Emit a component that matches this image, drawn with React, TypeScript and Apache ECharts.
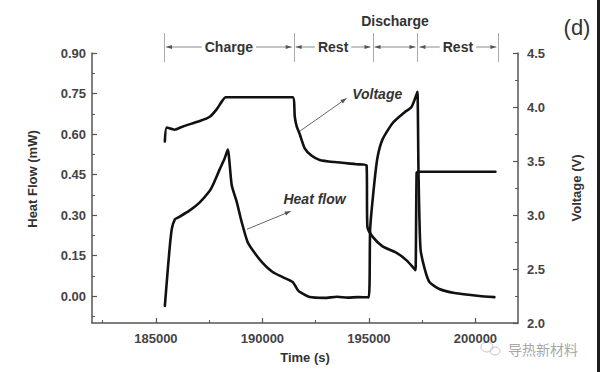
import React, { useEffect, useRef } from 'react';
import * as echarts from 'echarts';

// Voltage trace (right axis, V) vs time (s)
const voltageTime = [185420, 185510, 185880, 186270, 187060, 187530, 187860, 188090, 188280, 191420, 191520, 191610, 191750, 191980, 192300, 192690, 193390, 194400, 194890, 194930, 195170, 195640, 196300, 196770, 197140, 197190, 197240, 197300, 200940];
const voltageValue = [3.68, 3.81, 3.79, 3.82, 3.87, 3.91, 3.98, 4.05, 4.09, 4.09, 3.91, 3.82, 3.75, 3.62, 3.55, 3.51, 3.49, 3.47, 3.46, 2.89, 2.80, 2.71, 2.65, 2.58, 2.50, 2.49, 3.39, 3.40, 3.40];

// Heat flow trace (left axis, mW) vs time (s)
const heatTime = [185420, 185560, 185660, 185750, 185890, 186030, 186590, 187060, 187530, 187670, 188000, 188230, 188375, 188560, 188800, 189030, 189310, 189640, 190020, 190480, 190950, 191420, 191660, 191750, 192220, 192920, 193500, 194000, 194500, 194990, 195060, 195270, 195410, 195640, 196110, 196670, 197000, 197230, 197280, 197330, 197420, 197610, 197840, 198310, 199020, 200190, 200890];
const heatValue = [-0.037, 0.10, 0.19, 0.25, 0.284, 0.29, 0.317, 0.347, 0.39, 0.41, 0.47, 0.51, 0.542, 0.41, 0.347, 0.273, 0.199, 0.159, 0.122, 0.089, 0.070, 0.052, 0.022, 0.015, -0.004, -0.007, -0.003, -0.006, -0.004, -0.005, 0.25, 0.43, 0.516, 0.58, 0.64, 0.68, 0.70, 0.745, 0.756, 0.45, 0.177, 0.103, 0.052, 0.026, 0.011, 0.0, -0.004];

// Axis ticks
const xMajorTicks = [185000, 190000, 195000, 200000];
const xMinorTicks = [182500, 187500, 192500, 197500];
const heatMajorTicks = [0, 0.15, 0.3, 0.45, 0.6, 0.75, 0.9];
const heatMinorTicks = [-0.075, 0.075, 0.225, 0.375, 0.525, 0.675, 0.825];
const voltMajorTicks = [2, 2.5, 3, 3.5, 4, 4.5];
const voltMinorTicks = [2.25, 2.75, 3.25, 3.75, 4.25];

// Phase annotation (time boundaries) and labels
const phaseBoundaries = [185380, 191470, 195170, 197280, 201080];
const phaseLabels = ['Charge', 'Rest', '', 'Rest'];

// Curve annotation anchors in data units: [arrowStartT, arrowStartY, arrowEndT, arrowEndY, labelT, labelY]
const voltageNote = [191750, 3.775, 193950, 4.08, 195390, 4.12];
const heatNote = [189270, 0.247, 191330, 0.314, 192450, 0.358];

const FONT = '"Liberation Sans", Arial, sans-serif';
const AXIS_COLOR = '#555';
const LABEL_COLOR = '#444';

export default function App() {
  const ref = useRef<HTMLDivElement>(null);

  useEffect(() => {
    if (!ref.current) return;
    const chart = echarts.init(ref.current, null, { renderer: 'svg' });

    const labelStyle = { color: LABEL_COLOR, fontWeight: 'bold' as const, fontSize: 13, fontFamily: FONT };
    const nameStyle = { color: '#333', fontWeight: 'bold' as const, fontSize: 13, fontFamily: FONT };

    const option: any = {
      animation: false,
      backgroundColor: '#fff',
      grid: { left: 92, right: 82, top: 53, bottom: 49, containLabel: false },
      xAxis: [
        {
          type: 'value', min: 182000, max: 202000, position: 'bottom',
          axisLine: { show: true, onZero: false, lineStyle: { color: AXIS_COLOR, width: 1.5 } },
          axisTick: { show: true, inside: true, length: 5, customValues: xMajorTicks, lineStyle: { color: AXIS_COLOR, width: 1.2 } },
          axisLabel: { ...labelStyle, margin: 9, customValues: xMajorTicks, formatter: (v: number) => String(v) },
          splitLine: { show: false },
          name: 'Time (s)', nameLocation: 'middle', nameGap: 28, nameTextStyle: nameStyle,
        },
        {
          type: 'value', min: 182000, max: 202000, position: 'bottom',
          axisLine: { show: false, onZero: false },
          axisTick: { show: true, inside: true, length: 3, customValues: xMinorTicks, lineStyle: { color: AXIS_COLOR, width: 1 } },
          axisLabel: { show: false },
          splitLine: { show: false },
        },
      ],
      yAxis: [
        {
          type: 'value', min: -0.1, max: 0.9, position: 'left',
          axisLine: { show: true, onZero: false, lineStyle: { color: AXIS_COLOR, width: 1.5 } },
          axisTick: { show: true, inside: true, length: 5, customValues: heatMajorTicks, lineStyle: { color: AXIS_COLOR, width: 1.2 } },
          axisLabel: { ...labelStyle, margin: 6, customValues: heatMajorTicks, formatter: (v: number) => v.toFixed(2) },
          splitLine: { show: false },
          name: 'Heat Flow (mW)', nameLocation: 'middle', nameGap: 53, nameRotate: 90,
          nameTextStyle: { ...nameStyle, padding: [0, 0, 0, 18] },
        },
        {
          type: 'value', min: -0.1, max: 0.9, position: 'left',
          axisLine: { show: false, onZero: false },
          axisTick: { show: true, inside: true, length: 3, customValues: heatMinorTicks, lineStyle: { color: AXIS_COLOR, width: 1 } },
          axisLabel: { show: false },
          splitLine: { show: false },
        },
        {
          type: 'value', min: 2, max: 4.5, position: 'right',
          axisLine: { show: true, onZero: false, lineStyle: { color: AXIS_COLOR, width: 1.5 } },
          axisTick: { show: true, inside: true, length: 5, customValues: voltMajorTicks, lineStyle: { color: AXIS_COLOR, width: 1.2 } },
          axisLabel: { ...labelStyle, margin: 9, customValues: voltMajorTicks, formatter: (v: number) => v.toFixed(1) },
          splitLine: { show: false },
          name: 'Voltage (V)', nameLocation: 'middle', nameGap: 52, nameRotate: 90,
          nameTextStyle: nameStyle,
        },
        {
          type: 'value', min: 2, max: 4.5, position: 'right',
          axisLine: { show: false, onZero: false },
          axisTick: { show: true, inside: true, length: 3, customValues: voltMinorTicks, lineStyle: { color: AXIS_COLOR, width: 1 } },
          axisLabel: { show: false },
          splitLine: { show: false },
        },
      ],
      series: [
        {
          name: 'Heat flow', type: 'line', xAxisIndex: 0, yAxisIndex: 0,
          data: heatTime.map((t, i) => [t, heatValue[i]]),
          showSymbol: false, smooth: 0.2,
          lineStyle: { color: '#111', width: 2.6, join: 'round', cap: 'round' },
        },
        {
          name: 'Voltage', type: 'line', xAxisIndex: 0, yAxisIndex: 2,
          data: voltageTime.map((t, i) => [t, voltageValue[i]]),
          showSymbol: false, smooth: 0.2,
          lineStyle: { color: '#111', width: 2.6, join: 'round', cap: 'round' },
        },
      ],
    };
    chart.setOption(option);

    const px = (t: number) => chart.convertToPixel({ xAxisIndex: 0 }, t) as number;
    const pyH = (v: number) => chart.convertToPixel({ yAxisIndex: 0 }, v) as number;
    const pyV = (v: number) => chart.convertToPixel({ yAxisIndex: 2 }, v) as number;

    const graphic: any[] = [];
    const grey = '#8a8a8a';
    const rowY = 47;

    // phase boundary markers
    phaseBoundaries.forEach((t) => {
      const x = Math.round(px(t)) + 0.5;
      graphic.push({ type: 'line', shape: { x1: x, y1: 33, x2: x, y2: 62 }, style: { stroke: '#aaa', lineWidth: 1 } });
    });
    // arrows and labels between boundaries
    for (let i = 0; i < phaseBoundaries.length - 1; i++) {
      const xa = px(phaseBoundaries[i]);
      const xb = px(phaseBoundaries[i + 1]);
      graphic.push({ type: 'line', shape: { x1: xa + 2, y1: rowY, x2: xb - 2, y2: rowY }, style: { stroke: grey, lineWidth: 1 } });
      graphic.push({ type: 'polygon', shape: { points: [[xa + 2, rowY], [xa + 8, rowY - 2], [xa + 8, rowY + 2]] }, style: { fill: '#555' } });
      graphic.push({ type: 'polygon', shape: { points: [[xb - 2, rowY], [xb - 8, rowY - 2], [xb - 8, rowY + 2]] }, style: { fill: '#555' } });
      if (phaseLabels[i]) {
        graphic.push({
          type: 'text', x: (xa + xb) / 2, y: rowY,
          style: { text: phaseLabels[i], fill: '#333', font: `bold 14px ${FONT}`, align: 'center', verticalAlign: 'middle', backgroundColor: '#fff', padding: [0, 3] },
        });
      }
    }
    graphic.push({
      type: 'text', x: (px(phaseBoundaries[2]) + px(phaseBoundaries[3])) / 2, y: 21,
      style: { text: 'Discharge', fill: '#333', font: `bold 14px ${FONT}`, align: 'center', verticalAlign: 'middle' },
    });
    graphic.push({
      type: 'text', x: 577, y: 27,
      style: { text: '(d)', fill: '#333', font: `22px ${FONT}`, align: 'center', verticalAlign: 'middle' },
    });

    // curve annotations
    const addNote = (note: number[], py: (v: number) => number, text: string) => {
      const x1 = px(note[0]), y1 = py(note[1]), x2 = px(note[2]), y2 = py(note[3]);
      graphic.push({ type: 'line', shape: { x1, y1, x2, y2 }, style: { stroke: '#666', lineWidth: 1 } });
      const ang = Math.atan2(y2 - y1, x2 - x1);
      const L = 6, W = 2.2;
      const bx = x2 - L * Math.cos(ang), by = y2 - L * Math.sin(ang);
      const nx = -Math.sin(ang) * W, ny = Math.cos(ang) * W;
      graphic.push({ type: 'polygon', shape: { points: [[x2, y2], [bx + nx, by + ny], [bx - nx, by - ny]] }, style: { fill: '#555' } });
      graphic.push({
        type: 'text', x: px(note[4]), y: py(note[5]),
        style: { text, fill: '#333', font: `italic bold 14px ${FONT}`, align: 'center', verticalAlign: 'middle' },
      });
    };
    addNote(voltageNote, pyV, 'Voltage');
    addNote(heatNote, pyH, 'Heat flow');

    // watermark
    graphic.push({ type: 'ellipse', shape: { cx: 487, cy: 347, rx: 6, ry: 5 }, style: { fill: 'none', stroke: '#c4c4c4', lineWidth: 1 } });
    graphic.push({ type: 'ellipse', shape: { cx: 495, cy: 351, rx: 5, ry: 4 }, style: { fill: 'none', stroke: '#c4c4c4', lineWidth: 1 } });
    graphic.push({
      type: 'text', x: 508, y: 349,
      style: { text: '导热新材料', fill: '#a8a8a8', font: '14px "Noto Sans CJK SC"', align: 'left', verticalAlign: 'middle' },
    });
    // dark right image edge
    graphic.push({ type: 'rect', shape: { x: 597, y: 0, width: 3, height: 372 }, style: { fill: '#1e1e1e' } });

    chart.setOption({ graphic });

    return () => chart.dispose();
  }, []);

  return <div ref={ref} style={{ position: 'fixed', left: 0, top: 0, width: 600, height: 372, background: '#fff' }} />;
}
